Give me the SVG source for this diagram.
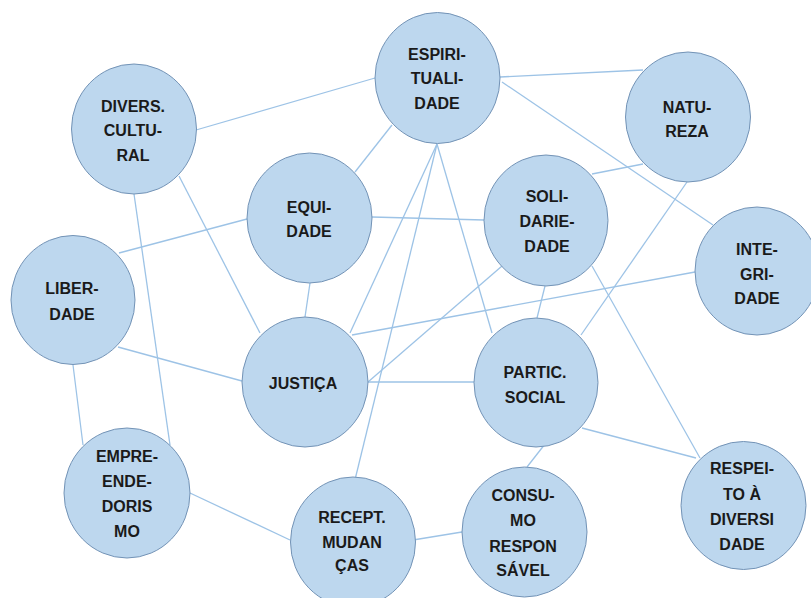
<svg xmlns="http://www.w3.org/2000/svg" width="811" height="598" viewBox="0 0 811 598">
<style>
.n ellipse{fill:#BDD7EE;stroke:#7393B6;stroke-width:1}
.n text{font-family:"Liberation Sans",Arial,sans-serif;font-weight:bold;font-size:16px;fill:#1a1a1a;text-anchor:middle}
#edges line{stroke:#9DC3E6;stroke-width:1.3}
</style>
<rect width="811" height="598" fill="#ffffff"/>
<g id="edges">
<line x1="196" y1="130" x2="375" y2="78"/>
<line x1="179" y1="176" x2="260" y2="333"/>
<line x1="134" y1="194" x2="170" y2="445"/>
<line x1="119" y1="253" x2="247" y2="219"/>
<line x1="118" y1="347" x2="242" y2="381"/>
<line x1="73" y1="365" x2="83" y2="445"/>
<line x1="355" y1="172" x2="392" y2="125"/>
<line x1="372" y1="217" x2="484" y2="220"/>
<line x1="310" y1="283" x2="305" y2="317"/>
<line x1="500" y1="77" x2="643" y2="70"/>
<line x1="502" y1="82" x2="713" y2="225"/>
<line x1="437" y1="144" x2="350" y2="333"/>
<line x1="437" y1="144" x2="352" y2="492"/>
<line x1="437" y1="144" x2="492" y2="333"/>
<line x1="643" y1="164" x2="592" y2="174"/>
<line x1="687" y1="182" x2="581" y2="335"/>
<line x1="502" y1="266" x2="368" y2="382"/>
<line x1="545" y1="286" x2="537" y2="318"/>
<line x1="592" y1="266" x2="700" y2="458"/>
<line x1="695" y1="272" x2="352" y2="335"/>
<line x1="368" y1="382" x2="474" y2="382"/>
<line x1="190" y1="493" x2="290" y2="540"/>
<line x1="413" y1="540" x2="462" y2="532"/>
<line x1="545" y1="444" x2="527" y2="467"/>
<line x1="582" y1="428" x2="696" y2="458"/>
</g>
<g id="espiritualidade" class="n"><ellipse cx="437.5" cy="78" rx="62.5" ry="65.5"/><text x="437" y="60">ESPIRI-</text><text x="437" y="84">TUALI-</text><text x="437" y="109">DADE</text></g>
<g id="natureza" class="n"><ellipse cx="688" cy="117" rx="62.5" ry="65"/><text x="687" y="113">NATU-</text><text x="687" y="137">REZA</text></g>
<g id="diversidade-cultural" class="n"><ellipse cx="134" cy="129" rx="62.5" ry="65"/><text x="133" y="112">DIVERS.</text><text x="133" y="136">CULTU-</text><text x="133" y="161">RAL</text></g>
<g id="equidade" class="n"><ellipse cx="309.5" cy="218" rx="62.5" ry="65"/><text x="309" y="213">EQUI-</text><text x="309" y="237">DADE</text></g>
<g id="solidariedade" class="n"><ellipse cx="546" cy="220.5" rx="62" ry="65.5"/><text x="547" y="202">SOLI-</text><text x="547" y="227">DARIE-</text><text x="547" y="252">DADE</text></g>
<g id="integridade" class="n"><ellipse cx="757" cy="271" rx="62" ry="64"/><text x="757" y="255">INTE-</text><text x="757" y="280">GRI-</text><text x="757" y="304">DADE</text></g>
<g id="liberdade" class="n"><ellipse cx="73" cy="300" rx="62" ry="64.5"/><text x="72" y="294">LIBER-</text><text x="72" y="320">DADE</text></g>
<g id="justica" class="n"><ellipse cx="305" cy="382" rx="63" ry="65"/><text x="303" y="389">JUSTIÇA</text></g>
<g id="participacao-social" class="n"><ellipse cx="536" cy="382.5" rx="62" ry="64.5"/><text x="535" y="378">PARTIC.</text><text x="535" y="403">SOCIAL</text></g>
<g id="empreendedorismo" class="n"><ellipse cx="127" cy="493" rx="63" ry="65"/><text x="127" y="462">EMPRE-</text><text x="127" y="487">ENDE-</text><text x="127" y="512">DORIS</text><text x="127" y="537">MO</text></g>
<g id="respeito-diversidade" class="n"><ellipse cx="743.5" cy="505.5" rx="62.5" ry="64"/><text x="742" y="474">RESPEI-</text><text x="742" y="500">TO À</text><text x="742" y="525">DIVERSI</text><text x="742" y="550">DADE</text></g>
<g id="receptividade-mudancas" class="n"><ellipse cx="353" cy="542" rx="62.5" ry="65"/><text x="352" y="523">RECEPT.</text><text x="352" y="548">MUDAN</text><text x="352" y="571">ÇAS</text></g>
<g id="consumo-responsavel" class="n"><ellipse cx="524.5" cy="532" rx="62.5" ry="65"/><text x="523" y="501">CONSU-</text><text x="523" y="526">MO</text><text x="523" y="552">RESPON</text><text x="523" y="576">SÁVEL</text></g>
</svg>
